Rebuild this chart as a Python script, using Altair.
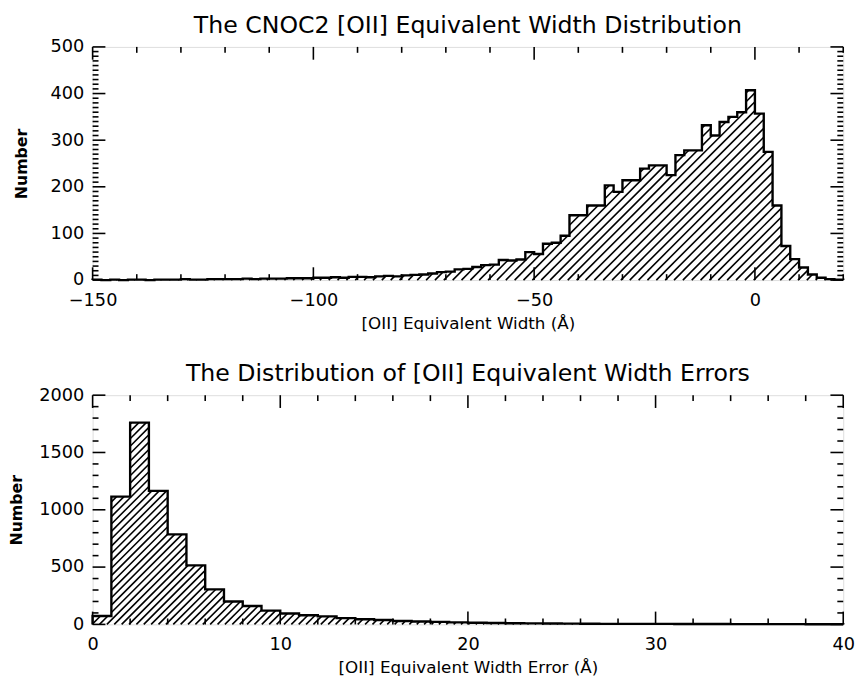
import altair as alt
import numpy as np
import pandas as pd

# ---------------- data ----------------
ew_bin_start = -150.0
ew_bin_width = 2.0
ew_counts = [
    1, 0, 1, 0, 1, 1, 0, 1, 1, 1,          # -150 .. -132
    2, 1, 1, 2, 2, 2, 2, 3, 2, 3,          # -130 .. -112
    3, 3, 4, 4, 4, 5, 5, 6, 5, 7,          # -110 .. -92
    7, 6, 8, 9, 8, 10, 11, 12, 14, 17,     # -90 .. -72
    18, 23, 24, 28, 32, 33, 43, 42, 44, 60,  # -70 .. -52
    56, 78, 80, 95, 139, 139, 160, 160, 203, 189,  # -50 .. -32
    214, 214, 239, 246, 246, 225, 268, 278, 278, 332,  # -30 .. -12
    310, 339, 350, 360, 407, 357, 275, 160, 73, 45,  # -10 .. 8
    27, 12, 5, 2, 1,                        # 10 .. 18
]

err_bin_start = 0.0
err_bin_width = 1.0
err_counts = [
    73, 1115, 1760, 1165, 785, 515, 305, 200, 160, 120,
    95, 80, 70, 55, 45, 38, 30, 25, 22, 18,
    14, 12, 10, 9, 8, 7, 6, 5, 5, 4,
    4, 3, 3, 3, 2, 2, 2, 2, 1, 1,
]

top_title = "The CNOC2 [OII] Equivalent Width Distribution"
top_xtitle = "[OII] Equivalent Width (Å)"
bot_title = "The Distribution of [OII] Equivalent Width Errors"
bot_xtitle = "[OII] Equivalent Width Error (Å)"
y_title = "Number"

top_xdomain = [-150, 20]
top_ydomain = [0, 500]
top_xlabels = [-150, -100, -50, 0]
top_xminor = 10
top_ylabels = [0, 100, 200, 300, 400, 500]
top_yminor = 10

bot_xdomain = [0, 40]
bot_ydomain = [0, 2000]
bot_xlabels = [0, 10, 20, 30, 40]
bot_xminor = 2
bot_ylabels = [0, 500, 1000, 1500, 2000]
bot_yminor = 100

W = 763
H1 = 237
H2 = 233
FONT = "DejaVu Sans"


def panel(counts, start, width, xdom, ydom, xlabels, xminor, ylabels, yminor,
          H, title, xtitle, hatch_px, major_px, minor_px, ytitle_pad):
    counts = np.asarray(counts, dtype=float)
    n = len(counts)
    edges = start + width * np.arange(n + 1)

    # step outline
    ox, oy = [edges[0]], [0.0]
    for i in range(n):
        ox += [edges[i], edges[i + 1]]
        oy += [counts[i], counts[i]]
    ox.append(edges[-1])
    oy.append(0.0)
    outline = pd.DataFrame({"x": ox, "y": oy, "o": np.arange(len(ox))})

    # diagonal hatching clipped to the histogram area (computed in pixel space)
    kx = W / (xdom[1] - xdom[0])
    ky = H / (ydom[1] - ydom[0])
    px = (edges - xdom[0]) * kx
    ph = (counts - ydom[0]) * ky
    segs = []
    for c in np.arange(-H, W, hatch_px):
        cur = None
        for i in range(n):
            lo = max(px[i], c, 0.0)
            hi = min(px[i + 1], c + ph[i], W)
            if hi > lo + 1e-9:
                if cur is not None and abs(cur[1] - lo) < 1e-6:
                    cur[1] = hi
                else:
                    if cur is not None:
                        segs.append(cur)
                    cur = [lo, hi, c]
            else:
                if cur is not None:
                    segs.append(cur)
                    cur = None
        if cur is not None:
            segs.append(cur)
    hatch = pd.DataFrame({
        "x": [s[0] / kx + xdom[0] for s in segs],
        "x2": [s[1] / kx + xdom[0] for s in segs],
        "y": [(s[0] - s[2]) / ky + ydom[0] for s in segs],
        "y2": [(s[1] - s[2]) / ky + ydom[0] for s in segs],
    })

    # inward IDL-style ticks on all four sides
    rows = []
    for v in np.arange(xdom[0], xdom[1] + 1e-9, xminor):
        L = major_px if any(abs(v - m) < 1e-9 for m in xlabels) else minor_px
        d = L / ky
        rows.append((v, v, ydom[0], ydom[0] + d))
        rows.append((v, v, ydom[1] - d, ydom[1]))
    for v in np.arange(ydom[0], ydom[1] + 1e-9, yminor):
        L = major_px if any(abs(v - m) < 1e-9 for m in ylabels) else minor_px
        d = L / kx
        rows.append((xdom[0], xdom[0] + d, v, v))
        rows.append((xdom[1] - d, xdom[1], v, v))
    ticks = pd.DataFrame(rows, columns=["x", "x2", "y", "y2"])

    xs = alt.Scale(domain=xdom, nice=False, zero=False)
    ys = alt.Scale(domain=ydom, nice=False, zero=False)
    xaxis = alt.Axis(values=xlabels, title=xtitle, ticks=False, domain=False, grid=False,
                     labelFont=FONT, labelFontSize=18, labelPadding=12, labelColor="black",
                     labelFlush=False, labelOverlap=False, format="d",
                     titleFont=FONT, titleFontSize=17, titleFontWeight="normal",
                     titleColor="black", titlePadding=6)
    yaxis = alt.Axis(values=ylabels, title=y_title, ticks=False, domain=False, grid=False,
                     labelFont=FONT, labelFontSize=18, labelPadding=9, labelColor="black",
                     labelOverlap=False, format="d",
                     titleFont=FONT, titleFontSize=16, titleFontWeight="bold",
                     titleColor="black", titlePadding=ytitle_pad)

    h = alt.Chart(hatch).mark_rule(color="black", strokeWidth=1.6).encode(
        x=alt.X("x:Q", scale=xs, axis=xaxis),
        y=alt.Y("y:Q", scale=ys, axis=yaxis),
        x2="x2:Q", y2="y2:Q",
    )
    o = alt.Chart(outline).mark_line(color="black", strokeWidth=2.4).encode(
        x=alt.X("x:Q", scale=xs, axis=xaxis),
        y=alt.Y("y:Q", scale=ys, axis=yaxis),
        order="o:Q",
    )
    t = alt.Chart(ticks).mark_rule(color="black", strokeWidth=1.6).encode(
        x=alt.X("x:Q", scale=xs, axis=xaxis),
        y=alt.Y("y:Q", scale=ys, axis=yaxis),
        x2="x2:Q", y2="y2:Q",
    )
    return alt.layer(h, o, t).properties(
        width=W, height=H,
        title=alt.TitleParams(title, font=FONT, fontSize=24, fontWeight="normal",
                              color="black", offset=0, anchor="middle"),
    )


top = panel(ew_counts, ew_bin_start, ew_bin_width, top_xdomain, top_ydomain,
            top_xlabels, top_xminor, top_ylabels, top_yminor, H1,
            top_title, top_xtitle, 9.0, 13, 6, 21)
bot = panel(err_counts, err_bin_start, err_bin_width, bot_xdomain, bot_ydomain,
            bot_xlabels, bot_xminor, bot_ylabels, bot_yminor, H2,
            bot_title, bot_xtitle, 7.5, 13, 6, 14)

chart = alt.vconcat(top, bot, spacing=30).properties(
    padding={"left": 0, "top": 0, "right": 2, "bottom": 0}
).configure_view(stroke="black", strokeWidth=2.2).configure(background="white")

chart.save("out.html", embed_options={"renderer": "svg", "actions": False})
